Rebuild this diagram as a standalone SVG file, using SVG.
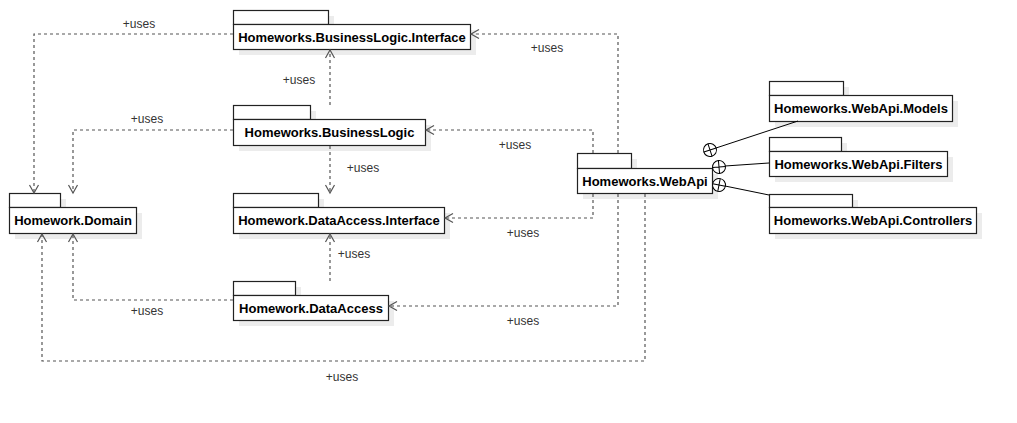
<svg xmlns="http://www.w3.org/2000/svg" width="1017" height="423" viewBox="0 0 1017 423">
<style>
.shadow{fill:#ececec;stroke:none}
.pkg{fill:#fff;stroke:#222;stroke-width:1.2}
.name{font-family:"Liberation Sans",Arial,sans-serif;font-size:13px;font-weight:bold;fill:#000;text-anchor:middle}
.dep{fill:none;stroke:#555;stroke-width:1.2;stroke-dasharray:3 3}
.lbl{font-family:"Liberation Sans",Arial,sans-serif;font-size:12px;fill:#333;text-anchor:middle}
.nest{fill:none;stroke:#000;stroke-width:1}
.cp{fill:#fff;stroke:#000;stroke-width:1}
</style>
<defs>
<marker id="open" viewBox="-10 -6 12 12" refX="0" refY="0" markerWidth="12" markerHeight="12" markerUnits="userSpaceOnUse" orient="auto">
<path d="M-8,-4.5 L0,0 L-8,4.5" fill="none" stroke="#555" stroke-width="1.2" stroke-dasharray="none"/>
</marker>
<g id="cplus">
<circle cx="0" cy="0" r="6.5" class="cp"/>
<path d="M-6.5,0 H6.5 M0,-6.5 V6.5" stroke="#000" stroke-width="1"/>
</g>
</defs>
<rect width="1017" height="423" fill="#fff"/>

<g id="bli">
<rect class="shadow" x="239" y="16" width="95" height="14"/>
<rect class="shadow" x="239" y="30" width="237" height="25"/>
<rect class="pkg" x="233.5" y="10.5" width="95" height="14"/>
<rect class="pkg" x="233.5" y="24.5" width="237" height="25"/>
<text class="name" x="352" y="42">Homeworks.BusinessLogic.Interface</text>
</g>

<g id="bl">
<rect class="shadow" x="239" y="111" width="77" height="14"/>
<rect class="shadow" x="239" y="125" width="192" height="26"/>
<rect class="pkg" x="233.5" y="105.5" width="77" height="14"/>
<rect class="pkg" x="233.5" y="119.5" width="192" height="26"/>
<text class="name" x="329.5" y="137">Homeworks.BusinessLogic</text>
</g>

<g id="domain">
<rect class="shadow" x="15" y="199" width="51" height="14"/>
<rect class="shadow" x="15" y="213" width="127" height="26"/>
<rect class="pkg" x="9.5" y="193.5" width="51" height="14"/>
<rect class="pkg" x="9.5" y="207.5" width="127" height="26"/>
<text class="name" x="73" y="225">Homework.Domain</text>
</g>

<g id="dai">
<rect class="shadow" x="239" y="199" width="85" height="14"/>
<rect class="shadow" x="239" y="213" width="211" height="26"/>
<rect class="pkg" x="233.5" y="193.5" width="85" height="14"/>
<rect class="pkg" x="233.5" y="207.5" width="211" height="26"/>
<text class="name" x="339" y="225">Homework.DataAccess.Interface</text>
</g>

<g id="da">
<rect class="shadow" x="239" y="287" width="62" height="14"/>
<rect class="shadow" x="239" y="301" width="155" height="25"/>
<rect class="pkg" x="233.5" y="281.5" width="62" height="14"/>
<rect class="pkg" x="233.5" y="295.5" width="155" height="25"/>
<text class="name" x="311" y="313">Homework.DataAccess</text>
</g>

<g id="webapi">
<rect class="shadow" x="583" y="159" width="54" height="15"/>
<rect class="shadow" x="583" y="174" width="135" height="25"/>
<rect class="pkg" x="577.5" y="153.5" width="54" height="15"/>
<rect class="pkg" x="577.5" y="168.5" width="135" height="25"/>
<text class="name" x="645" y="185.5">Homeworks.WebApi</text>
</g>

<g id="models">
<rect class="shadow" x="775" y="87" width="74" height="14"/>
<rect class="shadow" x="775" y="101" width="183" height="26"/>
<rect class="pkg" x="769.5" y="81.5" width="74" height="14"/>
<rect class="pkg" x="769.5" y="95.5" width="183" height="26"/>
<text class="name" x="861" y="113">Homeworks.WebApi.Models</text>
</g>

<g id="filters">
<rect class="shadow" x="775" y="143" width="72" height="14"/>
<rect class="shadow" x="775" y="157" width="178" height="25"/>
<rect class="pkg" x="769.5" y="137.5" width="72" height="14"/>
<rect class="pkg" x="769.5" y="151.5" width="178" height="25"/>
<text class="name" x="858.5" y="168.5">Homeworks.WebApi.Filters</text>
</g>

<g id="controllers">
<rect class="shadow" x="775" y="200" width="83" height="13"/>
<rect class="shadow" x="775" y="213" width="207" height="26"/>
<rect class="pkg" x="769.5" y="194.5" width="83" height="13"/>
<rect class="pkg" x="769.5" y="207.5" width="207" height="26"/>
<text class="name" x="873" y="225">Homeworks.WebApi.Controllers</text>
</g>

<g id="connectors">
<path class="dep" d="M233,34 H34 V193" marker-end="url(#open)"/>
<path class="dep" d="M233,130 H73 V193" marker-end="url(#open)"/>
<path class="dep" d="M330,105 V50" marker-end="url(#open)"/>
<path class="dep" d="M330,146 V193" marker-end="url(#open)"/>
<path class="dep" d="M330,281 V234" marker-end="url(#open)"/>
<path class="dep" d="M233,300 H73 V234" marker-end="url(#open)"/>
<path class="dep" d="M618,153 V34 H471" marker-end="url(#open)"/>
<path class="dep" d="M593,153 V130 H426" marker-end="url(#open)"/>
<path class="dep" d="M593,194 V218 H445" marker-end="url(#open)"/>
<path class="dep" d="M618,194 V306 H389" marker-end="url(#open)"/>
<path class="dep" d="M645,194 V361 H42 V234" marker-end="url(#open)"/>
<text class="lbl" x="139" y="28">+uses</text>
<text class="lbl" x="147" y="123">+uses</text>
<text class="lbl" x="299" y="84">+uses</text>
<text class="lbl" x="363" y="172">+uses</text>
<text class="lbl" x="354" y="258">+uses</text>
<text class="lbl" x="147" y="315">+uses</text>
<text class="lbl" x="547" y="52">+uses</text>
<text class="lbl" x="515" y="149">+uses</text>
<text class="lbl" x="523" y="237">+uses</text>
<text class="lbl" x="523" y="325">+uses</text>
<text class="lbl" x="342" y="381">+uses</text>
<path class="nest" d="M716,148 L798,121"/>
<path class="nest" d="M725,166 L769,163"/>
<path class="nest" d="M725,186 L769,195"/>
<use href="#cplus" transform="translate(710,150) rotate(-18)"/>
<use href="#cplus" transform="translate(719,167) rotate(-5)"/>
<use href="#cplus" transform="translate(719,185) rotate(11)"/>
</g>
</svg>
